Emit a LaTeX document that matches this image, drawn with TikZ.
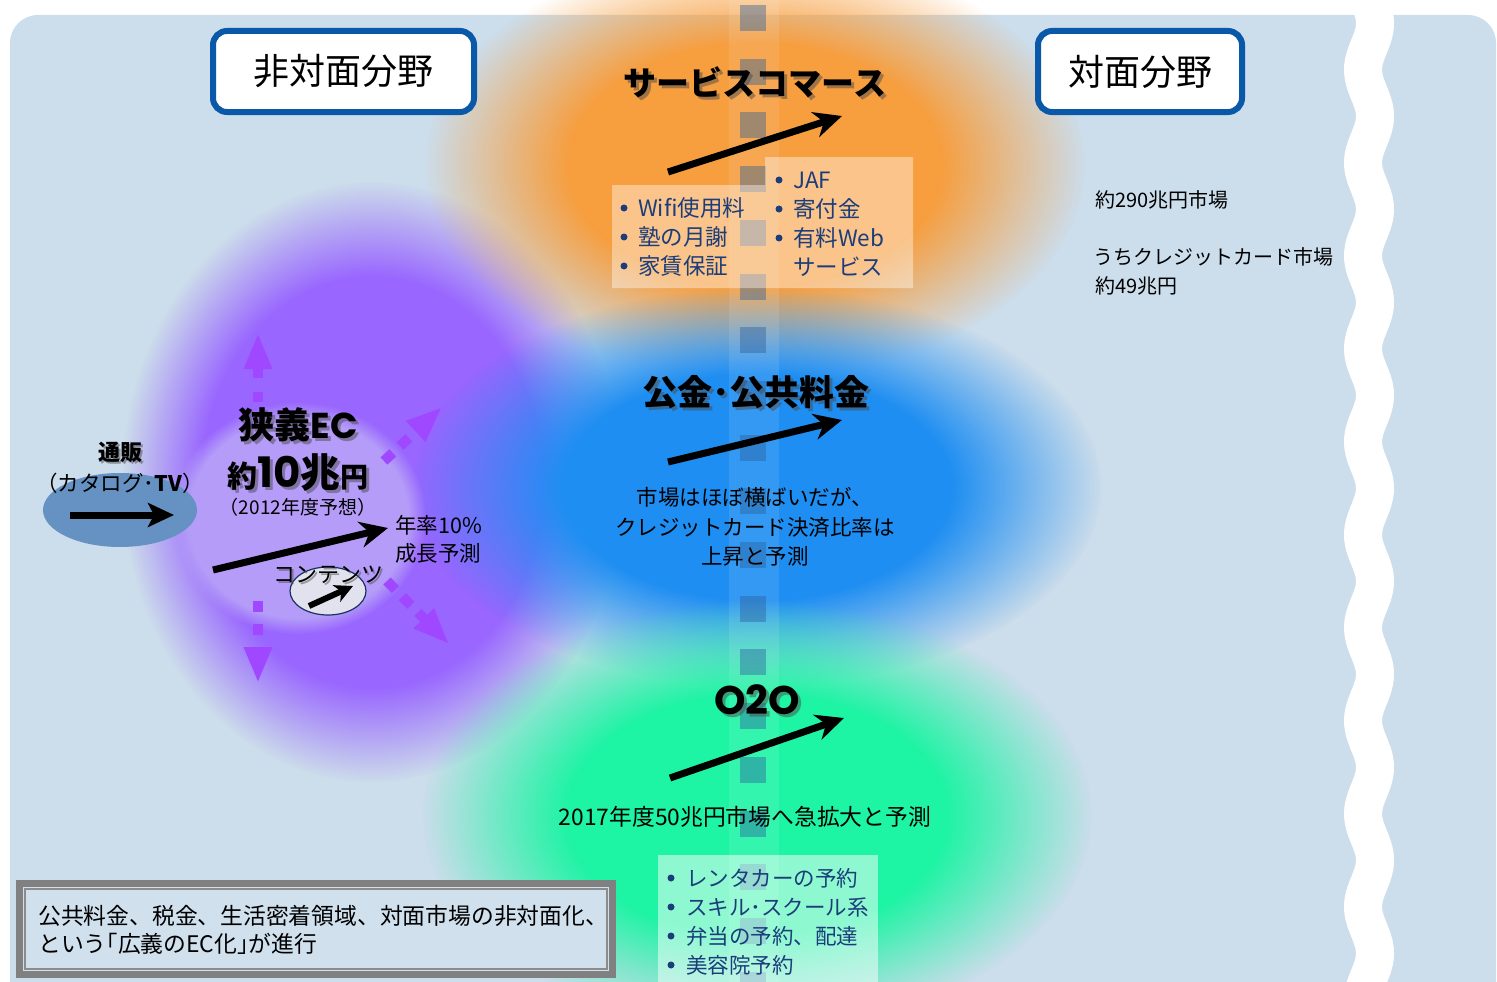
\documentclass[tikz,border=0pt]{standalone}
\usepackage{fontspec}
\setmainfont{Noto Sans CJK JP}
\newfontfamily\pop{Poppins}
\usetikzlibrary{fadings,arrows.meta}
\definecolor{bgc}{HTML}{CCDDEB}
\definecolor{orc}{HTML}{F79E3E}
\definecolor{blc}{HTML}{1E8EF2}
\definecolor{grc}{HTML}{1DF4A4}
\definecolor{puc}{HTML}{9966FF}
\definecolor{lavc}{HTML}{B49CF8}
\definecolor{stc}{HTML}{6592C2}
\definecolor{navyc}{HTML}{1B3D7A}
\definecolor{tbc}{HTML}{0A58A8}
\definecolor{parc}{HTML}{A048FF}
\definecolor{sqc}{HTML}{2A5E9A}
\definecolor{cgc}{HTML}{E2E2EE}
\pgfdeclareradialshading{sfA}{\pgfpointorigin}{color(0bp)=(pgftransparent!0); color(14bp)=(pgftransparent!0); color(25bp)=(pgftransparent!100); color(50bp)=(pgftransparent!100)}
\pgfdeclarefading{softA}{\pgfuseshading{sfA}}
\pgfdeclareradialshading{sfB}{\pgfpointorigin}{color(0bp)=(pgftransparent!0); color(17bp)=(pgftransparent!0); color(25bp)=(pgftransparent!100); color(50bp)=(pgftransparent!100)}
\pgfdeclarefading{softB}{\pgfuseshading{sfB}}
\pgfdeclareradialshading{sfC}{\pgfpointorigin}{color(0bp)=(pgftransparent!0); color(21.5bp)=(pgftransparent!0); color(25bp)=(pgftransparent!100); color(50bp)=(pgftransparent!100)}
\pgfdeclarefading{softC}{\pgfuseshading{sfC}}
\begin{document}
\begin{tikzpicture}[x=1pt,y=-1pt,
  ttl/.style={inner sep=0pt, text=black, font=\fontsize{33}{33}\selectfont\bfseries},
  ttlsh/.style={ttl, text=black!70, opacity=0.5},
  titlebox/.style={draw=tbc, line width=6pt, fill=white, rounded corners=14pt, minimum width=261pt, minimum height=81pt, inner sep=0pt, font=\fontsize{36}{36}\selectfont},
  bigarrow/.style={line width=7pt, -{Stealth[length=28pt,width=26pt,inset=9pt]}},
  purarrow/.style={draw=parc, line width=10pt, -{Triangle[length=36pt,width=26pt]}},
  bul/.style={circle, fill=navyc, inner sep=0pt, minimum size=7pt},
  item/.style={inner sep=0pt, anchor=west, text=navyc, font=\fontsize{22.5}{22.5}\selectfont},
  body/.style={inner sep=0pt, font=\fontsize{21.5}{29.5}\selectfont},
]
\useasboundingbox (0,0) rectangle (1497,982);
\begin{scope}
\clip (0,0) rectangle (1497,982);
\fill[white] (0,0) rectangle (1497,982);
\fill[bgc, rounded corners=28pt] (10,15) rectangle (1496,1030);
% blobs
\fill[puc, path fading=softB] (372,482) ellipse [x radius=250pt, y radius=300pt];
\fill[orc, path fading=softA] (755,165) ellipse [x radius=330pt, y radius=215pt];
\fill[blc, path fading=softA] (757,487) ellipse [x radius=345pt, y radius=200pt];
\fill[grc, path fading=softA] (757,815) ellipse [x radius=335pt, y radius=215pt];
\fill[lavc, path fading=softC] (298,518) ellipse [x radius=128pt, y radius=116pt];
% wavy cut
\draw[white, line width=38pt] plot[domain=0:1000, samples=300, smooth] ({1369+6*sin(\x*3.871)}, {\x});
% centre strip and squares
\fill[white, opacity=0.1] (729,0) rectangle (779,982);
\foreach \k in {0,...,18} {
  \fill[sqc, opacity=0.42] (740,5+53.7*\k) rectangle (766,31+53.7*\k);
}
\end{scope}

% title boxes
\node[titlebox] (nf) at (343.5,71.5) {非対面分野};
\node[titlebox, minimum width=204pt] (tf) at (1140,71.5) {対面分野};

% service commerce
\node[ttlsh] (scs) at (758,85) {サービスコマース};
\node[ttl] (sc) at (755,82) {サービスコマース};
\coordinate (a1s) at (668,172);
\coordinate (a1e) at (842,116);
\draw[bigarrow] (a1s) -- (a1e);
\fill[white, opacity=0.4] (612,185) -- (765,185) -- (765,157) -- (913,157) -- (913,288) -- (612,288) -- cycle;
\foreach \t [count=\i] in {Wifi使用料,塾の月謝,家賃保証} {
  \node[bul] (ob\i) at (624,179+29*\i) {};
  \node[item] (ot\i) at (638,179+29*\i) {\t};
}
\foreach \t [count=\i] in {JAF,寄付金,有料Web} {
  \node[bul] (pb\i) at (779,151+29*\i) {};
  \node[item] (pt\i) at (793,151+29*\i) {\t};
}
\node[item] (pt4) at (793,267) {サービス};

% right texts
\node[body, anchor=west, font=\fontsize{20}{20}\selectfont] (r1) at (1095,200) {約290兆円市場};
\node[body, anchor=west, font=\fontsize{20}{20}\selectfont] (r2) at (1093,257) {うちクレジットカード市場};
\node[body, anchor=west, font=\fontsize{20}{20}\selectfont] (r3) at (1095,286) {約49兆円};

% public fees
\node[ttlsh, font=\fontsize{35}{35}\selectfont\bfseries] (kks) at (759,395) {公金･公共料金};
\node[ttl, font=\fontsize{35}{35}\selectfont\bfseries] (kk) at (756,392) {公金･公共料金};
\coordinate (a2s) at (668,462);
\coordinate (a2e) at (842,420);
\draw[bigarrow] (a2s) -- (a2e);
\node[body, align=center] (kt) at (755,527) {市場はほぼ横ばいだが、\\クレジットカード決済比率は\\上昇と予測};

% O2O
\node[inner sep=0pt, font=\pop\fontsize{40}{40}\selectfont\bfseries, text=black!70, opacity=0.5] (o2os) at (760,703) {O2O};
\node[inner sep=0pt, font=\pop\fontsize{40}{40}\selectfont\bfseries] (o2o) at (757,700) {O2O};
\coordinate (a3s) at (670,778);
\coordinate (a3e) at (844,718);
\draw[bigarrow] (a3s) -- (a3e);
\node[body, font=\fontsize{22.8}{22.8}\selectfont] (o2ot) at (745,817) {2017年度50兆円市場へ急拡大と予測};
\fill[white, opacity=0.5] (658,855) rectangle (878,990);
\foreach \t [count=\i] in {レンタカーの予約,スキル･スクール系,弁当の予約、配達,美容院予約} {
  \node[bul] (gb\i) at (671,849+29*\i) {};
  \node[item, font=\fontsize{21.5}{21.5}\selectfont] (gt\i) at (686,849+29*\i) {\t};
}

% mail order
\fill[stc] (120,510) ellipse [x radius=77pt, y radius=37pt];
\node[body, font=\fontsize{22}{22}\selectfont\bfseries, text=black!70, opacity=0.5] (tss) at (122,454) {通販};
\node[body, font=\fontsize{22}{22}\selectfont\bfseries] (ts) at (120,452) {通販};
\node[body] (cat) at (120,483) {（カタログ･\textbf{TV}）};
\coordinate (a4s) at (70,515);
\coordinate (a4e) at (174,515);
\draw[line width=7pt, -{Stealth[length=26pt,width=24pt,inset=6pt]}] (a4s) -- (a4e);

% narrow EC
\node[ttlsh, font=\fontsize{36}{36}\selectfont\bfseries] (ecs) at (301,428) {狭義{\pop\bfseries EC}};
\node[ttl, font=\fontsize{36}{36}\selectfont\bfseries] (ec) at (298,425) {狭義{\pop\bfseries EC}};
\node[ttlsh, font=\bfseries] (ams) at (301,476) {{\fontsize{30}{30}\selectfont 約}{\pop\bfseries\fontsize{42}{42}\selectfont 10}{\fontsize{40}{40}\selectfont 兆}{\fontsize{28}{28}\selectfont 円}};
\node[ttl, font=\bfseries] (am) at (298,473) {{\fontsize{30}{30}\selectfont 約}{\pop\bfseries\fontsize{42}{42}\selectfont 10}{\fontsize{40}{40}\selectfont 兆}{\fontsize{28}{28}\selectfont 円}};
\node[body, font=\fontsize{19}{19}\selectfont] (yr) at (298,507) {（2012年度予想）};
\coordinate (a5s) at (213,570);
\coordinate (a5e) at (388,528);
\draw[bigarrow] (a5s) -- (a5e);
\node[body, anchor=west] (g1) at (395,525) {年率10\%};
\node[body, anchor=west] (g2) at (395,553) {成長予測};

% contents
\draw[draw=navyc!80!black, line width=1.2pt, fill=cgc] (328,591) ellipse [x radius=38pt, y radius=24pt];
\node[body, font=\fontsize{22}{22}\selectfont, text=black!70, opacity=0.5] (cns) at (330,577) {コンテンツ};
\node[body, font=\fontsize{22}{22}\selectfont] (cn) at (328,575) {コンテンツ};
\coordinate (a6s) at (309,606);
\coordinate (a6e) at (353,586);
\draw[line width=6pt, -{Stealth[length=18pt,width=18pt,inset=5pt]}] (a6s) -- (a6e);

% purple dashed arrows
\coordinate (pu1s) at (258,402); \coordinate (pu1e) at (258,333);
\coordinate (pu2s) at (258,601); \coordinate (pu2e) at (258,683);
\coordinate (pu3s) at (384,461); \coordinate (pu3e) at (442,407);
\coordinate (pu4s) at (387,581); \coordinate (pu4e) at (449,644);
\draw[purarrow, dash pattern=on 10pt off 14pt] (pu1s) -- (pu1e);
\draw[purarrow, dash pattern=on 11pt off 12pt] (pu2s) -- (pu2e);
\draw[purarrow, dash pattern=on 12pt off 10pt] (pu3s) -- (pu3e);
\draw[purarrow, dash pattern=on 12pt off 10pt] (pu4s) -- (pu4e);

% note box
\node[draw=black!50, line width=7pt, fill=bgc!92!white, minimum width=593pt, minimum height=91pt, inner sep=0pt] (note) at (316,929) {};
\draw[black!45, line width=2pt] ([shift={(9pt,-9pt)}]note.north west) rectangle ([shift={(-9pt,9pt)}]note.south east);
\node[body, anchor=west, font=\fontsize{22.8}{22.8}\selectfont] (n1) at (38,916) {公共料金、税金、生活密着領域、対面市場の非対面化、};
\node[body, anchor=west, font=\fontsize{22.8}{22.8}\selectfont] (n2) at (38,944) {という｢広義のEC化｣が進行};
\end{tikzpicture}
\end{document}
